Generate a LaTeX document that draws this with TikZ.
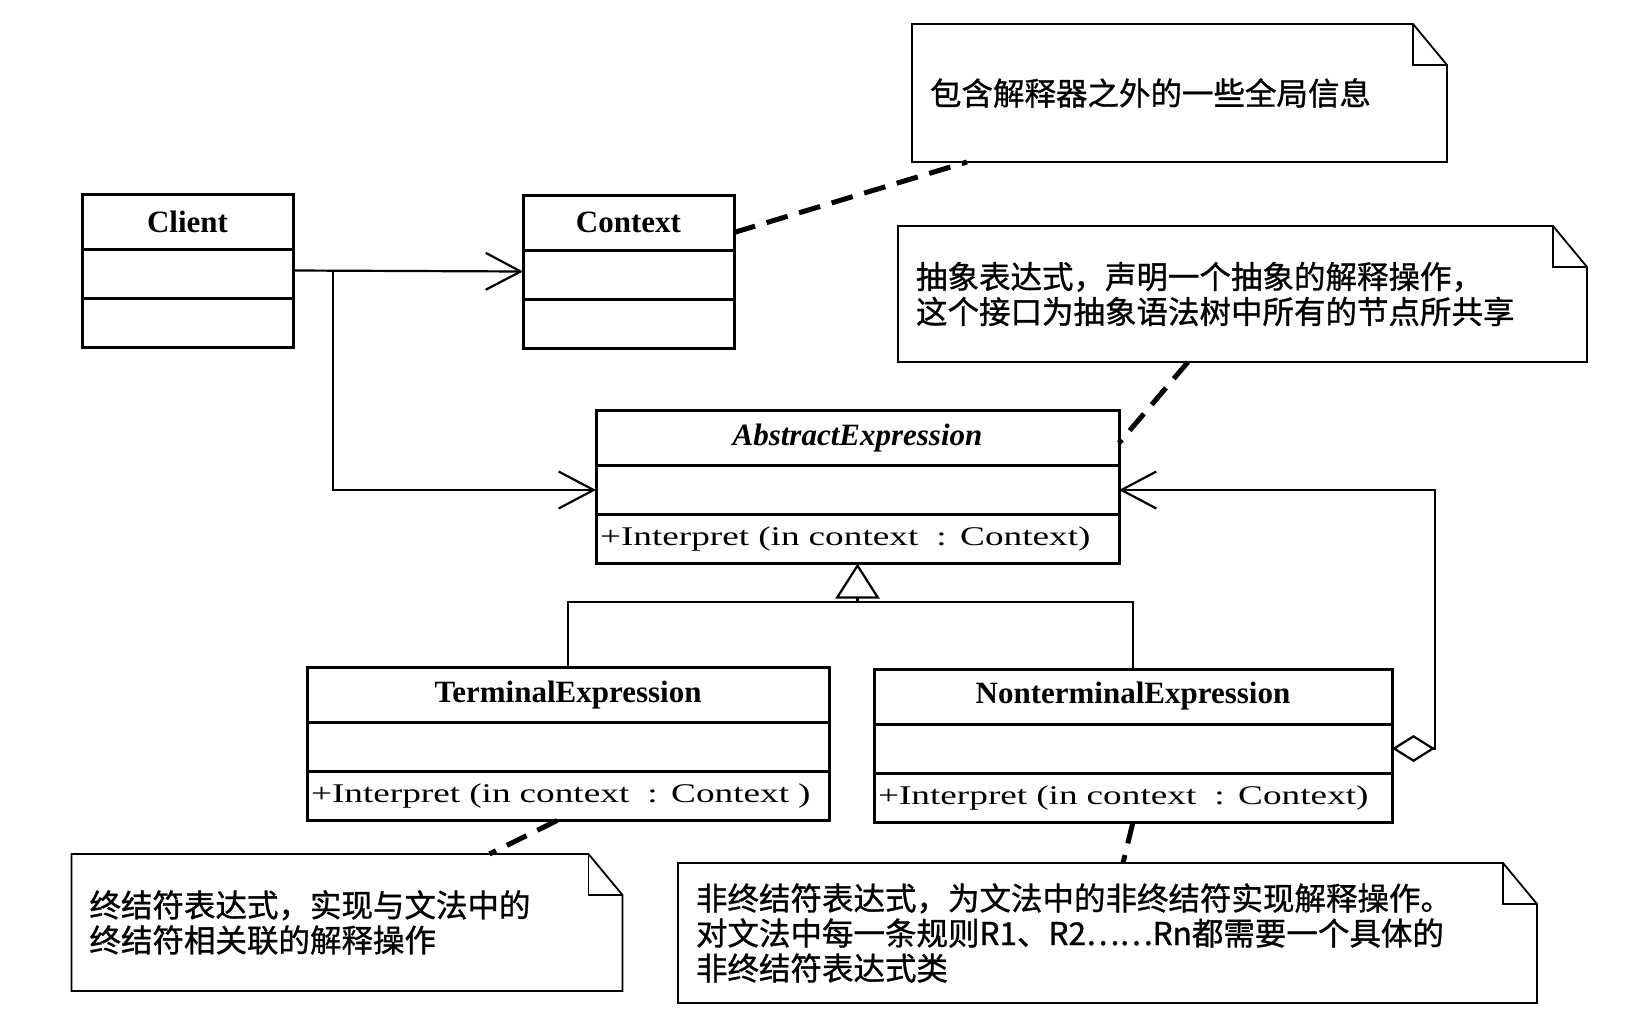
\documentclass[tikz,border=0pt]{standalone}
\usepackage{fontspec}
\usepackage{tikz}
\usetikzlibrary{positioning,arrows.meta}
\setmainfont{Liberation Serif}
\newfontfamily\cjk[FakeBold=1]{Noto Sans CJK SC}
\newfontfamily\opfont[FakeStretch=1.38]{Liberation Serif}
\tikzstyle{every node}=[outer sep=0pt,inner sep=0pt]
\tikzstyle{classname}=[draw,line width=3pt,minimum height=55pt,font=\fontsize{31}{36}\selectfont\bfseries]
\tikzstyle{abstract}=[font=\fontsize{31}{36}\selectfont\bfseries\itshape]
\tikzstyle{classpart}=[draw,line width=3pt,minimum height=49pt]
\tikzstyle{classop}=[classpart,font=\opfont\fontsize{27}{31}\selectfont,align=left,inner xsep=4pt]
\tikzstyle{note}=[inner xsep=18pt,align=left,font=\cjk\fontsize{31.5}{35}\selectfont]
\tikzstyle{notebox}=[line width=1.8pt,line join=miter]
\tikzstyle{link}=[line width=2.2pt]
\tikzstyle{assoc}=[link,-{Straight Barb[length=35pt,width=37pt]}]
\tikzstyle{anchorline}=[line width=5pt,dash pattern=on 22pt off 12pt]
\newcommand{\foldednote}[1]{%
  \draw[notebox] (#1.north west) -- ([xshift=-34pt]#1.north east)
    -- ([yshift=-41pt]#1.north east) -- (#1.south east) -- (#1.south west) -- cycle;
  \draw[notebox] ([xshift=-34pt]#1.north east) |- ([yshift=-41pt]#1.north east);}

\begin{document}
\begin{tikzpicture}[x=1pt,y=-1pt]
  \useasboundingbox[fill=white] (0,0) rectangle (1636,1020);

  \node[classname,minimum width=211pt] (clientname) at (187.5,221.5) {Client};
  \node[classpart,minimum width=211pt,below=0pt of clientname] (clientattr) {};
  \node[classpart,minimum width=211pt,below=0pt of clientattr] (clientop) {};

  \node[classname,minimum width=211pt] (contextname) at (628.5,222.5) {Context};
  \node[classpart,minimum width=211pt,below=0pt of contextname] (contextattr) {};
  \node[classpart,minimum width=211pt,below=0pt of contextattr] (contextop) {};

  \node[classname,abstract,minimum width=523pt] (abstractname) at (857.5,438) {AbstractExpression};
  \node[classpart,minimum width=523pt,below=0pt of abstractname] (abstractattr) {};
  \node[classop,text width=515pt,below=0pt of abstractattr] (abstractop) {+Interpret (in context~~: Context)};

  \node[classname,minimum width=522pt] (termname) at (568,695) {TerminalExpression};
  \node[classpart,minimum width=522pt,below=0pt of termname] (termattr) {};
  \node[classop,text width=514pt,below=0pt of termattr] (termop) {+Interpret (in context~~: Context~)};

  \node[classname,minimum width=518pt] (nontermname) at (1133,696.5) {NonterminalExpression};
  \node[classpart,minimum width=518pt,below=0pt of nontermname] (nontermattr) {};
  \node[classop,text width=510pt,below=0pt of nontermattr] (nontermop) {+Interpret (in context~~: Context)};

  \node[note,text width=499pt,minimum height=138pt] (globalnote) at (1179.5,93) {包含解释器之外的一些全局信息};
  \node[note,text width=653pt,minimum height=136pt] (abstractnote) at (1242.5,294)
    {抽象表达式，声明一个抽象的解释操作，\\这个接口为抽象语法树中所有的节点所共享};
  \node[note,text width=515pt,minimum height=137pt] (terminalnote) at (347,922.5)
    {终结符表达式，实现与文法中的\\终结符相关联的解释操作};
  \node[note,text width=823pt,minimum height=140pt] (nonterminalnote) at (1107.5,933)
    {非终结符表达式，为文法中的非终结符实现解释操作。\\对文法中每一条规则R1、R2……Rn都需要一个具体的\\非终结符表达式类};
  \foldednote{globalnote}
  \foldednote{abstractnote}
  \foldednote{terminalnote}
  \foldednote{nonterminalnote}

  \draw[assoc] ([yshift=3pt]clientattr.east) -- ([yshift=3pt]contextattr.west);
  \draw[assoc] ([xshift=40pt,yshift=3pt]clientattr.east) |- (abstractattr.west);
  \draw[link,{Diamond[open,length=43pt,width=27pt]}-{Straight Barb[length=35pt,width=37pt]}]
    (nontermattr.east) -- ++(43,0) |- (abstractattr.east);

  \coordinate (genjoin) at (857.5,602);
  \draw[link] (termname.north) |- (genjoin) -| (nontermname.north);
  \draw[link,-{Triangle[open,length=35pt,width=44pt]}] (genjoin) -- (abstractop.south);

  \draw[anchorline] ([yshift=-10pt]contextname.east) -- ([xshift=55pt]globalnote.south west);
  \draw[anchorline] ([xshift=290pt]abstractnote.south west) -- ([yshift=-5pt]abstractname.east);
  \draw[anchorline] ([xshift=-11pt]termop.south) -- ([xshift=418pt]terminalnote.north west);
  \draw[anchorline] (nontermop.south) -- ([xshift=445pt]nonterminalnote.north west);
\end{tikzpicture}
\end{document}
